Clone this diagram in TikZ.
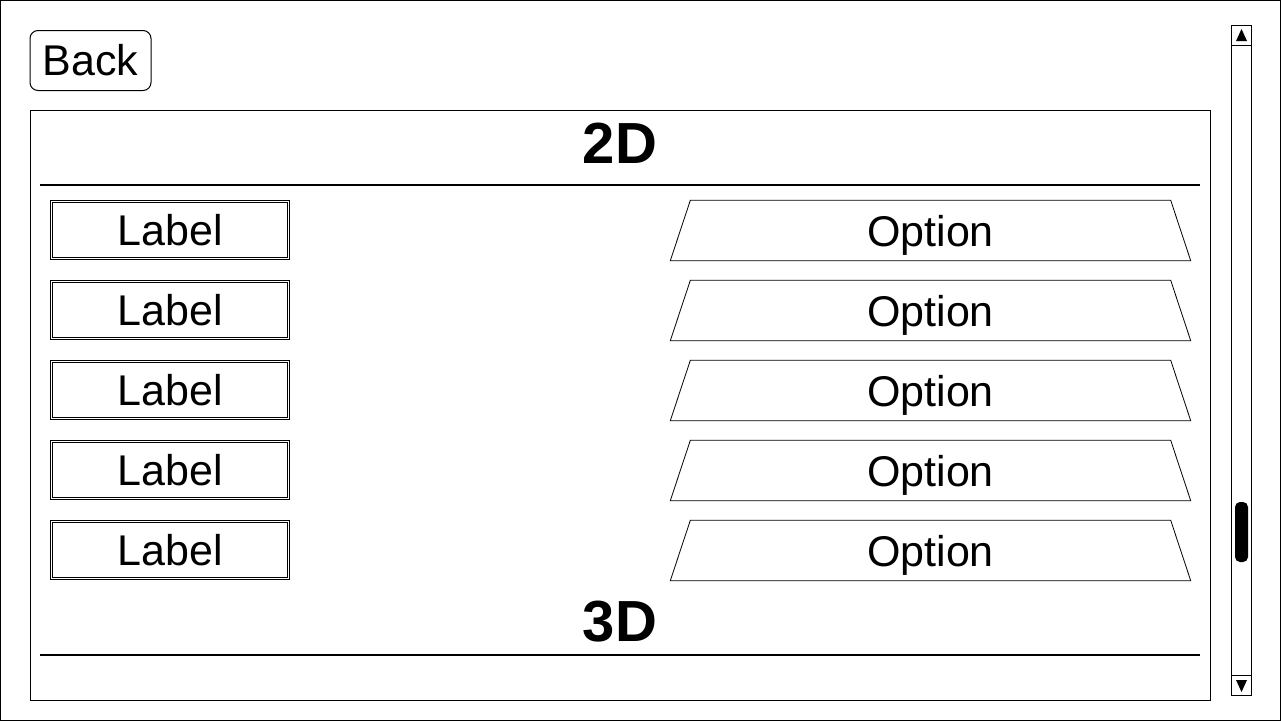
\documentclass[tikz,border=0pt]{standalone}
\usepackage{fontspec}
\setmainfont{Liberation Sans}
\usetikzlibrary{calc}
\begin{document}
\begin{tikzpicture}[x=1pt,y=-1pt,
  txt/.style={font=\fontsize{43}{50}\selectfont, inner sep=0pt},
  head/.style={font=\fontsize{58}{66}\selectfont\bfseries, inner sep=0pt},
  labelbox/.style={draw, double, line width=0.8pt, double distance=1.5pt, minimum width=237pt, minimum height=57pt, inner sep=0pt, font=\fontsize{43}{50}\selectfont},
  optbox/.style={minimum width=520pt, minimum height=60pt, inner sep=0pt, text depth=0pt, font=\fontsize{43}{50}\selectfont},
  optline/.style={line width=0.8pt, line join=miter},
  thin/.style={line width=1pt},
  rule/.style={line width=2pt}
]
\useasboundingbox (0,0) rectangle (1281,721);
\fill[white] (0,0) rectangle (1281,721);
\draw[thin] (0.5,0.5) rectangle (1280.5,720.5);
% Back button
\node[draw, thin, rounded corners=8pt, minimum width=121pt, minimum height=60pt, inner sep=0pt, font=\fontsize{43}{50}\selectfont] (back) at (90.5,60.5) {Back};
% panel
\draw[thin] (30.5,110.5) rectangle (1210.5,700.5);
\node[head] (h2d) at (620,143) {2D};
\coordinate (r1a) at (40,185);
\coordinate (r1b) at (1200,185);
\draw[rule] (r1a) -- (r1b);
\foreach \i in {0,...,4}{
  \node[labelbox] (lab\i) at (170,{230+80*\i}) {Label};
  \node[optbox] (opt\i) at (930.5,{230.5+80*\i}) {Option};
  \draw[optline] (opt\i.south west) -- ($(opt\i.north west)+(20,0)$) -- ($(opt\i.north east)+(-20,0)$) -- (opt\i.south east) -- cycle;
}
\node[head] (h3d) at (620,622) {3D};
\coordinate (r2a) at (40,655);
\coordinate (r2b) at (1200,655);
\draw[rule] (r2a) -- (r2b);
% scrollbar
\draw[thin] (1231.5,25.5) rectangle (1251.5,695.5);
\draw[thin] (1231.5,45.5) -- (1251.5,45.5);
\draw[thin] (1231.5,675.5) -- (1251.5,675.5);
\fill (1236,41) -- (1247,41) -- (1241.5,29) -- cycle;
\fill (1236,680) -- (1247,680) -- (1241.5,692) -- cycle;
\fill[rounded corners=5pt] (1235,502) rectangle (1248,562);
\end{tikzpicture}
\end{document}
